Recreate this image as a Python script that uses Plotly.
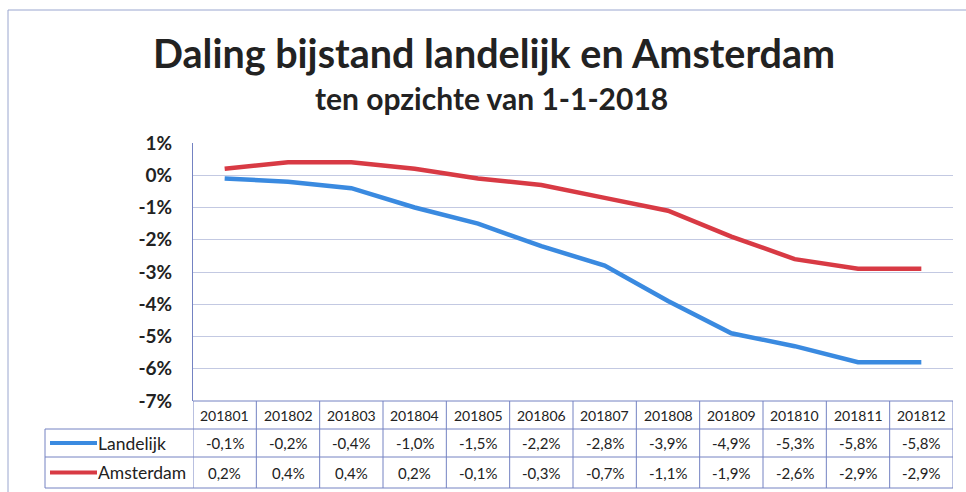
import plotly.graph_objects as go

# ---- data ----
months = ["201801", "201802", "201803", "201804", "201805", "201806",
          "201807", "201808", "201809", "201810", "201811", "201812"]
landelijk = [-0.1, -0.2, -0.4, -1.0, -1.5, -2.2, -2.8, -3.9, -4.9, -5.3, -5.8, -5.8]
amsterdam = [0.2, 0.4, 0.4, 0.2, -0.1, -0.3, -0.7, -1.1, -1.9, -2.6, -2.9, -2.9]
series_names = ["Landelijk", "Amsterdam"]
y_tickvals = [1, 0, -1, -2, -3, -4, -5, -6, -7]
y_ticktext = ["1%", "0%", "-1%", "-2%", "-3%", "-4%", "-5%", "-6%", "-7%"]
title_text = "Daling bijstand landelijk en Amsterdam"
subtitle_text = "ten opzichte van 1-1-2018"

# ---- style ----
W, H = 966, 492
BLUE = "#3a8ae0"
RED = "#d83a44"
TABLE_LINE = "#7482c2"
GRID = "#c3c9e2"
FONT = "Lato"
TXT = "#222222"


def px(x):
    return x / W


def py(y):
    return 1 - y / H


def fmt(v):
    return ("%.1f%%" % v).replace(".", ",")


fig = go.Figure()
fig.add_trace(go.Scatter(x=months, y=landelijk, mode="lines", name=series_names[0],
                         line=dict(color=BLUE, width=4.5), showlegend=False))
fig.add_trace(go.Scatter(x=months, y=amsterdam, mode="lines", name=series_names[1],
                         line=dict(color=RED, width=4.5), showlegend=False))

plot_left, plot_right, plot_top, plot_bottom = 193, 953, 143, 401
row_tops = [401, 429, 457, 488]
legend_left = 45

shapes = []
ann = []

# outer frame
shapes.append(dict(type="line", xref="paper", yref="paper", x0=px(8), x1=1.0,
                   y0=py(10), y1=py(10), line=dict(color="#9aa6cf", width=1)))
shapes.append(dict(type="line", xref="paper", yref="paper", x0=px(8), x1=px(8),
                   y0=py(10), y1=0.0, line=dict(color="#9aa6cf", width=1)))

n = len(months)
# table horizontal lines
for i, yt in enumerate(row_tops):
    if i == 0:
        shapes.append(dict(type="line", xref="x", yref="paper", x0=-0.5, x1=n - 0.5,
                           y0=py(yt), y1=py(yt), line=dict(color=TABLE_LINE, width=1)))
    else:
        shapes.append(dict(type="line", xref="paper", yref="paper", x0=px(legend_left), x1=px(plot_right),
                           y0=py(yt), y1=py(yt), line=dict(color=TABLE_LINE, width=1)))
# table vertical lines
for i in range(n + 1):
    shapes.append(dict(type="line", xref="x", yref="paper", x0=i - 0.5, x1=i - 0.5,
                       y0=py(row_tops[0]), y1=py(row_tops[-1]), line=dict(color=TABLE_LINE, width=1)))
shapes.append(dict(type="line", xref="paper", yref="paper", x0=px(legend_left), x1=px(legend_left),
                   y0=py(row_tops[1]), y1=py(row_tops[-1]), line=dict(color=TABLE_LINE, width=1)))

# table texts
row_centers = [(row_tops[k] + row_tops[k + 1]) / 2 for k in range(3)]
for i, m in enumerate(months):
    ann.append(dict(x=i, y=py(row_centers[0]), xref="x", yref="paper", text=m, showarrow=False,
                    xanchor="center", yanchor="middle",
                    font=dict(family=FONT, size=14, color=TXT)))
    for k, vals in enumerate([landelijk, amsterdam]):
        ann.append(dict(x=i, y=py(row_centers[k + 1]), xref="x", yref="paper", text=fmt(vals[i]),
                        showarrow=False, xanchor="center", yanchor="middle",
                        font=dict(family=FONT, size=15, color=TXT)))

# legend keys in table
for k, (name, col) in enumerate(zip(series_names, [BLUE, RED])):
    yc = py(row_centers[k + 1])
    shapes.append(dict(type="line", xref="paper", yref="paper", x0=px(50), x1=px(97),
                       y0=yc, y1=yc, line=dict(color=col, width=4)))
    ann.append(dict(x=px(96), y=yc, xref="paper", yref="paper", text=name, showarrow=False,
                    xanchor="left", yanchor="middle", font=dict(family=FONT, size=17.5, color=TXT)))

# titles
ann.append(dict(x=px(494), y=py(52), xref="paper", yref="paper", text="<b>" + title_text + "</b>",
                showarrow=False, xanchor="center", yanchor="middle",
                font=dict(family=FONT, size=39.5, color=TXT)))
ann.append(dict(x=px(492), y=py(98), xref="paper", yref="paper", text="<b>" + subtitle_text + "</b>",
                showarrow=False, xanchor="center", yanchor="middle",
                font=dict(family=FONT, size=30, color=TXT)))

fig.update_layout(
    template="none",
    width=W, height=H,
    margin=dict(l=0, r=0, t=0, b=0, pad=0, autoexpand=False),
    paper_bgcolor="white", plot_bgcolor="white",
    shapes=shapes, annotations=ann,
    xaxis=dict(domain=[px(plot_left), px(plot_right)], range=[-0.5, n - 0.5],
               showgrid=False, showticklabels=False, zeroline=False, showline=False, ticks="",
               automargin=False,
               type="category", categoryorder="array", categoryarray=months),
    yaxis=dict(domain=[py(plot_bottom), py(plot_top)], range=[-7, 1], automargin=False,
               tickvals=y_tickvals, ticktext=y_ticktext, showgrid=True, gridcolor=GRID, gridwidth=1,
               zeroline=False, showline=True, linecolor=TABLE_LINE, linewidth=1,
               ticks="", ticklabelstandoff=16,
               tickfont=dict(family=FONT, size=19, color=TXT, weight="bold")),
)

fig.write_html("out.html", config={"displayModeBar": False},
               post_script="document.body.style.margin='0';document.body.style.overflow='hidden';")
